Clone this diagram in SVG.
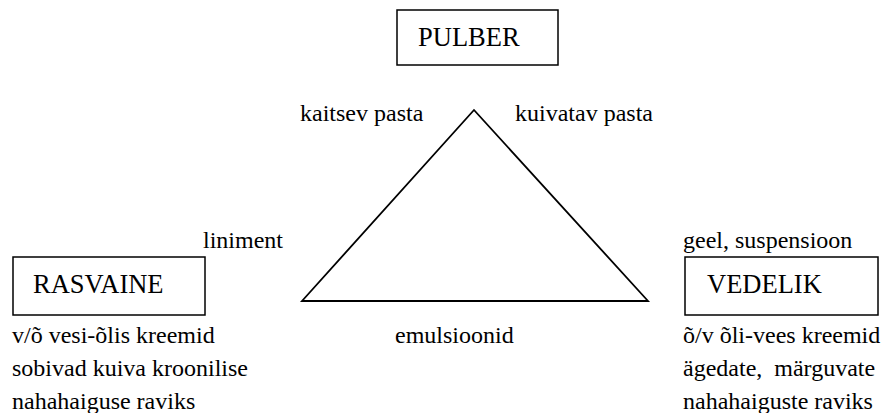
<svg xmlns="http://www.w3.org/2000/svg" width="882" height="413" viewBox="0 0 882 413">
<style>
  text { font-family: "Liberation Serif", serif; fill: #000; white-space: pre; }
  .lbl { font-size: 26.5px; }
  .t { font-size: 24px; }
  .box { fill: #fff; stroke: #000; stroke-width: 1.5; }
  .edge { fill: none; stroke: #000; stroke-width: 1.8; stroke-linejoin: miter; }
</style>
<rect width="882" height="413" fill="#fff"/>
<g id="connectors">
  <polygon class="edge" points="474,110 302,301 648,301"/>
</g>
<g id="pulber">
  <rect class="box" x="397" y="10" width="161" height="55"/>
  <text class="lbl" x="418" y="46">PULBER</text>
</g>
<g id="rasvaine">
  <rect class="box" x="13" y="257" width="192" height="58"/>
  <text class="lbl" x="33" y="293">RASVAINE</text>
</g>
<g id="vedelik">
  <rect class="box" x="685" y="257" width="193" height="58"/>
  <text class="lbl" x="707" y="293">VEDELIK</text>
</g>
<g id="labels">
  <text class="t" x="300" y="121">kaitsev pasta</text>
  <text class="t" x="515" y="121">kuivatav pasta</text>
  <text class="t" x="203" y="248">liniment</text>
  <text class="t" x="683" y="248">geel, suspensioon</text>
  <text class="t" x="395" y="343">emulsioonid</text>
  <text class="t" x="12" y="343">v/õ vesi-õlis kreemid</text>
  <text class="t" x="12" y="376">sobivad kuiva kroonilise</text>
  <text class="t" x="12" y="409">nahahaiguse raviks</text>
  <text class="t" x="683" y="343">õ/v õli-vees kreemid</text>
  <text class="t" x="683" y="376">ägedate,  märguvate</text>
  <text class="t" x="683" y="409">nahahaiguste raviks</text>
</g>
</svg>
